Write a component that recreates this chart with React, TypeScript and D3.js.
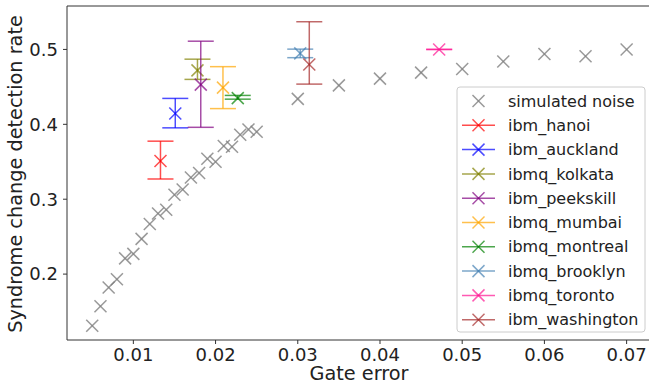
import React from "react";
import * as d3 from "d3";

const simX = [0.005, 0.006, 0.007, 0.008, 0.009, 0.010, 0.011, 0.012, 0.013, 0.014, 0.015, 0.016, 0.017, 0.018, 0.019, 0.020, 0.021, 0.022, 0.023, 0.024, 0.025, 0.030, 0.035, 0.040, 0.045, 0.050, 0.055, 0.060, 0.065, 0.070];
const simY = [0.131, 0.157, 0.182, 0.193, 0.221, 0.227, 0.247, 0.267, 0.281, 0.286, 0.306, 0.313, 0.329, 0.335, 0.354, 0.350, 0.371, 0.370, 0.386, 0.393, 0.390, 0.434, 0.452, 0.461, 0.469, 0.474, 0.484, 0.494, 0.491, 0.500];

const devNames = ["ibm_hanoi", "ibm_auckland", "ibmq_kolkata", "ibm_peekskill", "ibmq_mumbai", "ibmq_montreal", "ibmq_brooklyn", "ibmq_toronto", "ibm_washington"];
const devX = [0.0133, 0.0151, 0.0178, 0.0182, 0.0209, 0.0227, 0.0303, 0.0472, 0.0314];
const devY = [0.351, 0.4145, 0.472, 0.453, 0.449, 0.435, 0.4947, 0.500, 0.480];
const devLo = [0.327, 0.3953, 0.460, 0.396, 0.421, 0.4336, 0.489, 0.500, 0.4537];
const devHi = [0.3775, 0.4346, 0.487, 0.511, 0.477, 0.4386, 0.5004, 0.500, 0.537];
const devColors = ["red", "blue", "olive", "purple", "orange", "green", "steelblue", "deeppink", "brown"];

const xTicks = [0.01, 0.02, 0.03, 0.04, 0.05, 0.06, 0.07];
const yTicks = [0.2, 0.3, 0.4, 0.5];

const W = 649, H = 383;
const L = 67, R = 648, T = 6, B = 340;
const FONT = "DejaVu Sans, sans-serif";

function XMark({ x, y, s, color, op, sw = 1.5 }: any) {
  return (
    <g stroke={color} strokeOpacity={op} strokeWidth={sw}>
      <line x1={x - s} y1={y - s} x2={x + s} y2={y + s} />
      <line x1={x - s} y1={y + s} x2={x + s} y2={y - s} />
    </g>
  );
}

export default function App() {
  const x = d3.scaleLinear().domain([0.00193, 0.0726]).range([L, R]);
  const y = d3.scaleLinear().domain([0.112, 0.558]).range([B, T]);
  const ms = 6;
  const cap = 13;
  const legX = 457, legY = 87, legW = 188, legH = 245, rowH = 24.3;
  const legendItems = ["simulated noise", ...devNames];
  const legendColors = ["gray", ...devColors];
  return (
    <svg width={W} height={H} style={{ position: "absolute", left: 0, top: 0 }} fontFamily={FONT}>
      <rect x={0} y={0} width={W} height={H} fill="white" />
      {simX.map((v, i) => (
        <XMark key={"s" + i} x={x(v)} y={y(simY[i])} s={ms} color="gray" op={0.8} />
      ))}
      {devNames.map((n, i) => {
        const cx = x(devX[i]);
        return (
          <g key={n} stroke={devColors[i]} strokeOpacity={0.7} strokeWidth={1.5}>
            <line x1={cx} x2={cx} y1={y(devLo[i])} y2={y(devHi[i])} />
            <line x1={cx - cap} x2={cx + cap} y1={y(devLo[i])} y2={y(devLo[i])} />
            <line x1={cx - cap} x2={cx + cap} y1={y(devHi[i])} y2={y(devHi[i])} />
            <line x1={cx - ms} y1={y(devY[i]) - ms} x2={cx + ms} y2={y(devY[i]) + ms} />
            <line x1={cx - ms} y1={y(devY[i]) + ms} x2={cx + ms} y2={y(devY[i]) - ms} />
          </g>
        );
      })}
      <path d={`M${W},${T}H${L}V${B}H${W}`} fill="none" stroke="#333" strokeWidth={1} />
      {xTicks.map((t) => (
        <g key={"x" + t}>
          <line x1={x(t)} x2={x(t)} y1={B} y2={B + 4} stroke="#333" />
          <text x={x(t)} y={360.5} textAnchor="middle" fontSize={18} fill="#222">
            {t.toFixed(2)}
          </text>
        </g>
      ))}
      {yTicks.map((t) => (
        <g key={"y" + t}>
          <line x1={L - 4} x2={L} y1={y(t)} y2={y(t)} stroke="#333" />
          <text x={58} y={y(t)} dy="0.35em" textAnchor="end" fontSize={18} fill="#222">
            {t.toFixed(1)}
          </text>
        </g>
      ))}
      <text x={359} y={380} textAnchor="middle" fontSize={19.3} fill="#222">Gate error</text>
      <text transform={`translate(22,174) rotate(-90)`} textAnchor="middle" fontSize={19.3} fill="#222">
        Syndrome change detection rate
      </text>
      <rect x={legX} y={legY} width={legW} height={legH} rx={3} fill="white" fillOpacity={0.8} stroke="#ccc" />
      {legendItems.map((n, i) => {
        const cy = legY + 14 + i * rowH;
        return (
          <g key={"l" + n}>
            {i > 0 && (
              <line x1={462} x2={495} y1={cy} y2={cy} stroke={legendColors[i]} strokeOpacity={0.7} strokeWidth={1.5} />
            )}
            <XMark x={478.5} y={cy} s={ms} color={legendColors[i]} op={i === 0 ? 0.8 : 0.7} />
            <text x={508} y={cy} dy="0.35em" fontSize={16} fill="#222">{n}</text>
          </g>
        );
      })}
    </svg>
  );
}
